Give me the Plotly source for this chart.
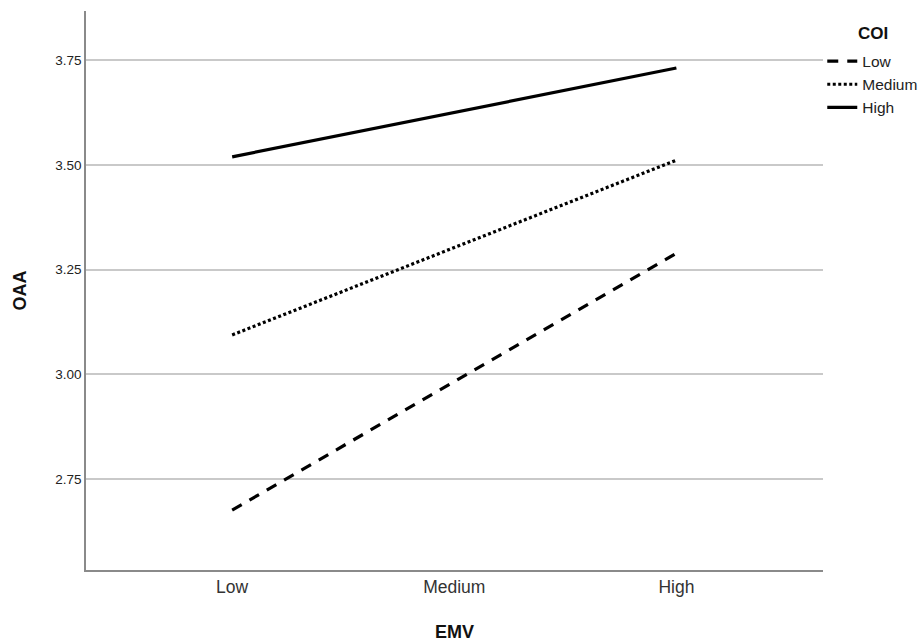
import plotly.graph_objects as go

categories = ["Low", "Medium", "High"]
coi_levels = ["Low", "Medium", "High"]
oaa_low = [2.676, 2.983, 3.289]
oaa_medium = [3.094, 3.302, 3.511]
oaa_high = [3.519, 3.625, 3.731]
y_ticks = [2.75, 3.00, 3.25, 3.50, 3.75]
legend_title = "COI"

series = [oaa_low, oaa_medium, oaa_high]
dashes = ["11px,9px", "3px,2.5px", "solid"]

fig = go.Figure()
for name, vals, dash in zip(coi_levels, series, dashes):
    fig.add_trace(go.Scatter(
        x=[0, 1, 2], y=vals, mode="lines", name=name,
        line=dict(color="black", width=3.2, dash=dash),
    ))

fig.add_annotation(
    xref="paper", yref="paper", x=1.068, y=1.0 - (33 - 11) / 559,
    text=f"<b>{legend_title}</b>", showarrow=False,
    xanchor="center", yanchor="middle",
    font=dict(size=17, color="#111"),
)

fig.update_layout(
    width=924, height=642,
    margin=dict(l=86, r=101, t=11, b=72, autoexpand=False),
    paper_bgcolor="white", plot_bgcolor="white",
    font=dict(family="Liberation Sans, Arial, sans-serif", color="#111"),
    legend=dict(
        x=0.999, y=0.94, xanchor="left", yanchor="top",
        font=dict(size=15.5, color="#222"),
        bgcolor="rgba(0,0,0,0)", borderwidth=0,
        tracegroupgap=0,
    ),
    xaxis=dict(
        range=[-0.658, 2.66],
        tickmode="array", tickvals=[0, 1, 2], ticktext=categories,
        tickfont=dict(size=17.5, color="#333"),
        showgrid=False, zeroline=False,
        showline=True, linecolor="#8a8a8a", linewidth=1.5,
        ticks="", ticklen=0,
        title=dict(text="<b>EMV</b>", font=dict(size=18, color="#111"), standoff=30),
    ),
    yaxis=dict(
        range=[2.533, 3.867],
        tickmode="array", tickvals=y_ticks, ticktext=[f"{v:.2f}" for v in y_ticks],
        tickfont=dict(size=13.5, color="#222"),
        showgrid=True, gridcolor="#c9c9c9", gridwidth=1.5,
        zeroline=False,
        showline=True, linecolor="#8a8a8a", linewidth=1.5,
        ticks="", ticklen=0,
        title=dict(text="<b>OAA</b>", font=dict(size=18, color="#111"), standoff=24),
    ),
)

fig.write_html("out.html")
